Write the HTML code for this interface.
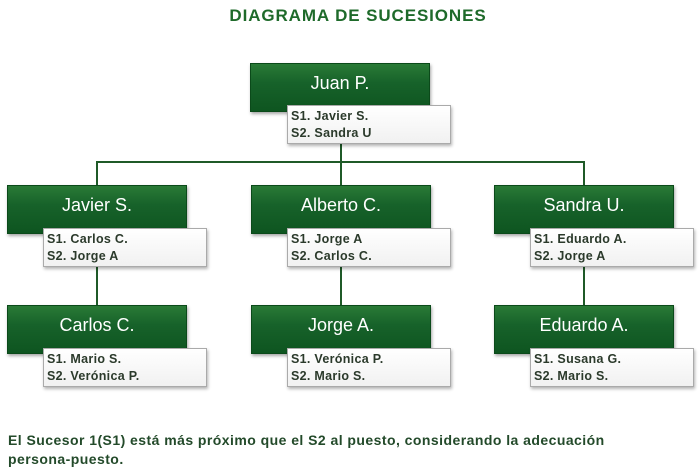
<!DOCTYPE html>
<html><head><meta charset="utf-8"><style>
body{margin:0;width:700px;height:469px;background:#fff;position:relative;overflow:hidden;font-family:"Liberation Sans",sans-serif}
.t{position:absolute;left:0;width:716px;top:6px;text-align:center;font-weight:bold;font-size:17px;color:#1e6a2a;letter-spacing:0.9px}
.n{position:absolute;width:180px;height:49px;background:linear-gradient(#2a7a36,#17622a 40%,#0e5520);border:1px solid #0b4a1a;box-shadow:1px 2px 3px rgba(0,0,0,.35);color:#fff;font-size:18px;text-align:center;line-height:38px;box-sizing:border-box}
.s{position:absolute;width:164px;height:39px;background:linear-gradient(#fff,#f1f1f1);border:1px solid #aaa;box-shadow:1px 2px 3px rgba(0,0,0,.3);box-sizing:border-box;font-weight:bold;font-size:12.5px;color:#2b3a2b;padding:2px 0 0 3px;line-height:17px;letter-spacing:0.3px}
.l{position:absolute;background:#1f5a28}
.f{position:absolute;left:8px;top:431px;font-weight:bold;font-size:14px;color:#234a2a;line-height:19px;letter-spacing:0.45px}
</style></head><body>
<div class="t">DIAGRAMA DE SUCESIONES</div>
<div class="l" style="left:340px;top:140px;width:2px;height:23px"></div>
<div class="l" style="left:96px;top:161px;width:489px;height:2px"></div>
<div class="l" style="left:96px;top:161px;width:2px;height:146px"></div>
<div class="l" style="left:340px;top:161px;width:2px;height:146px"></div>
<div class="l" style="left:583px;top:161px;width:2px;height:146px"></div>

<div class="n" style="left:250px;top:63px">Juan P.</div>
<div class="s" style="left:287px;top:105px">S1. Javier S.<br>S2. Sandra U</div>

<div class="n" style="left:7px;top:185px">Javier S.</div>
<div class="s" style="left:43px;top:228px">S1. Carlos C.<br>S2. Jorge A</div>
<div class="n" style="left:251px;top:185px">Alberto C.</div>
<div class="s" style="left:287px;top:228px">S1. Jorge A<br>S2. Carlos C.</div>
<div class="n" style="left:494px;top:185px">Sandra U.</div>
<div class="s" style="left:530px;top:228px">S1. Eduardo A.<br>S2. Jorge A</div>

<div class="n" style="left:7px;top:305px">Carlos C.</div>
<div class="s" style="left:43px;top:348px">S1. Mario S.<br>S2. Verónica P.</div>
<div class="n" style="left:251px;top:305px">Jorge A.</div>
<div class="s" style="left:287px;top:348px">S1. Verónica P.<br>S2. Mario S.</div>
<div class="n" style="left:494px;top:305px">Eduardo A.</div>
<div class="s" style="left:530px;top:348px">S1. Susana G.<br>S2. Mario S.</div>

<div class="f">El Sucesor 1(S1) está más próximo que el S2 al puesto, considerando la adecuación<br>persona-puesto.</div>
</body></html>
